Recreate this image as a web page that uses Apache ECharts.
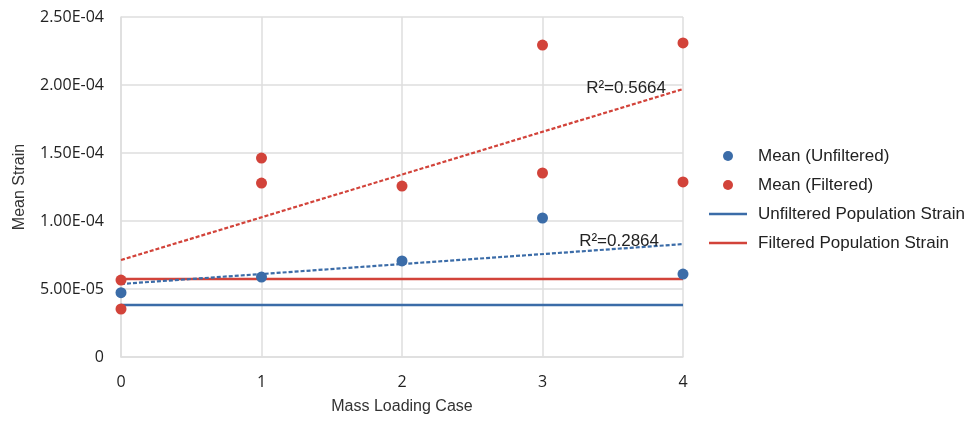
<!DOCTYPE html>
<html>
<head>
<meta charset="utf-8">
<script src="https://cdn.jsdelivr.net/npm/echarts@6/dist/echarts.min.js"></script>
<style>
  html, body { margin: 0; padding: 0; background: #fff; }
  #chart { width: 975px; height: 427px; }
</style>
</head>
<body>
<div id="chart"></div>
<script>
// Mass loading cases on the x axis
const cases = [0, 1, 2, 3, 4];
const xTickLabels = ['0', '1', '2', '3', '4'];
const yTickLabels = ['0', '5.00E-05', '1.00E-04', '1.50E-04', '2.00E-04', '2.50E-04'];

// Mean strain per case, unfiltered (one reading per case)
const meanUnfiltered = [4.73e-5, 5.88e-5, 7.06e-5, 1.022e-4, 6.1e-5];

// Mean strain, filtered (two readings per case)
const filteredCase = [0, 0, 1, 1, 2, 3, 3, 4, 4];
const meanFiltered = [5.66e-5, 3.53e-5, 1.463e-4, 1.279e-4, 1.257e-4, 2.294e-4, 1.353e-4, 2.309e-4, 1.287e-4];

// Population strain levels
const unfilteredPopulation = 3.82e-5;
const filteredPopulation = 5.74e-5;

// Linear trend end points (case 0 and case 4) and fit quality
const trendUnfiltered = [5.37e-5, 8.3e-5];
const trendFiltered = [7.13e-5, 1.97e-4];
const r2Unfiltered = 'R²=0.2864';
const r2Filtered = 'R²=0.5664';

const BLUE = '#3b6ca8';
const RED = '#d2433a';
const GRID = '#dedede';
const LINE_ICON = 'path://M0,0 L38,0 L38,2.6 L0,2.6 Z';

const first = cases[0];
const last = cases[cases.length - 1];

const chart = echarts.init(document.getElementById('chart'));

function trendSeries(name, ends, color, label, labelDistance, labelOffsetY) {
  return {
    name: name,
    type: 'line',
    data: [[first, ends[0]], [last, ends[1]]],
    showSymbol: false,
    symbol: 'none',
    silent: true,
    z: 3,
    lineStyle: { color: color, width: 2.2, type: [4, 2] },
    markPoint: {
      silent: true,
      symbol: 'circle',
      symbolSize: 0,
      data: [{
        coord: [last, ends[1]],
        label: {
          show: true,
          position: 'left',
          distance: labelDistance,
          offset: [0, labelOffsetY],
          formatter: label,
          color: '#222',
          fontFamily: 'Liberation Sans, Arial, sans-serif',
          fontSize: 17
        }
      }]
    }
  };
}

chart.setOption({
  animation: false,
  backgroundColor: '#fff',
  grid: { left: 121, right: 292, top: 17, bottom: 70, outerBoundsMode: 'none', containLabel: false },
  legend: {
    left: 704,
    top: 141,
    orient: 'vertical',
    itemWidth: 38,
    itemHeight: 10,
    itemGap: 9,
    selectedMode: false,
    textStyle: {
      fontFamily: 'Liberation Sans, Arial, sans-serif',
      fontSize: 17,
      color: '#222',
      lineHeight: 20,
      padding: [0, 0, 0, 6]
    },
    data: [
      { name: 'Mean (Unfiltered)', icon: 'circle' },
      { name: 'Mean (Filtered)', icon: 'circle' },
      { name: 'Unfiltered Population Strain', icon: LINE_ICON },
      { name: 'Filtered Population Strain', icon: LINE_ICON }
    ]
  },
  xAxis: {
    type: 'value',
    min: first,
    max: last,
    interval: 1,
    name: 'Mass Loading Case',
    nameLocation: 'middle',
    nameGap: 42,
    nameTextStyle: {
      fontFamily: 'Liberation Sans, Arial, sans-serif',
      fontSize: 16,
      color: '#333'
    },
    axisLine: { show: true, lineStyle: { color: GRID, width: 1.5 } },
    axisTick: { show: false },
    splitLine: { show: true, lineStyle: { color: GRID, width: 1.5 } },
    axisLabel: {
      margin: 17,
      fontFamily: 'Open Sans, sans-serif',
      fontSize: 16,
      color: '#222',
      formatter: (v) => xTickLabels[cases.indexOf(v)]
    }
  },
  yAxis: {
    type: 'value',
    min: 0,
    max: 2.5e-4,
    interval: 5e-5,
    name: 'Mean Strain',
    nameLocation: 'middle',
    nameGap: 93,
    nameTextStyle: {
      fontFamily: 'Liberation Sans, Arial, sans-serif',
      fontSize: 16,
      color: '#333'
    },
    axisLine: { show: true, lineStyle: { color: GRID, width: 1.5 } },
    axisTick: { show: false },
    splitLine: { show: true, lineStyle: { color: GRID, width: 1.5 } },
    axisLabel: {
      margin: 17,
      fontFamily: 'Open Sans, sans-serif',
      fontSize: 16,
      color: '#222',
      formatter: (v) => yTickLabels[Math.round(v / 5e-5)]
    }
  },
  series: [
    {
      name: 'Unfiltered Population Strain',
      type: 'line',
      data: [[first, unfilteredPopulation], [last, unfilteredPopulation]],
      showSymbol: false,
      symbol: 'none',
      z: 2,
      color: BLUE,
      lineStyle: { color: BLUE, width: 2.6 }
    },
    {
      name: 'Filtered Population Strain',
      type: 'line',
      data: [[first, filteredPopulation], [last, filteredPopulation]],
      showSymbol: false,
      symbol: 'none',
      z: 2,
      color: RED,
      lineStyle: { color: RED, width: 2.6 }
    },
    trendSeries('Unfiltered trend', trendUnfiltered, BLUE, r2Unfiltered, 24, -3),
    trendSeries('Filtered trend', trendFiltered, RED, r2Filtered, 17, -1),
    {
      name: 'Mean (Unfiltered)',
      type: 'scatter',
      data: cases.map((c, i) => [c, meanUnfiltered[i]]),
      symbol: 'circle',
      symbolSize: 11,
      z: 5,
      color: BLUE,
      itemStyle: { color: BLUE, opacity: 1 }
    },
    {
      name: 'Mean (Filtered)',
      type: 'scatter',
      data: filteredCase.map((c, i) => [c, meanFiltered[i]]),
      symbol: 'circle',
      symbolSize: 11,
      z: 6,
      color: RED,
      itemStyle: { color: RED, opacity: 1 }
    }
  ]
});
</script>
</body>
</html>
